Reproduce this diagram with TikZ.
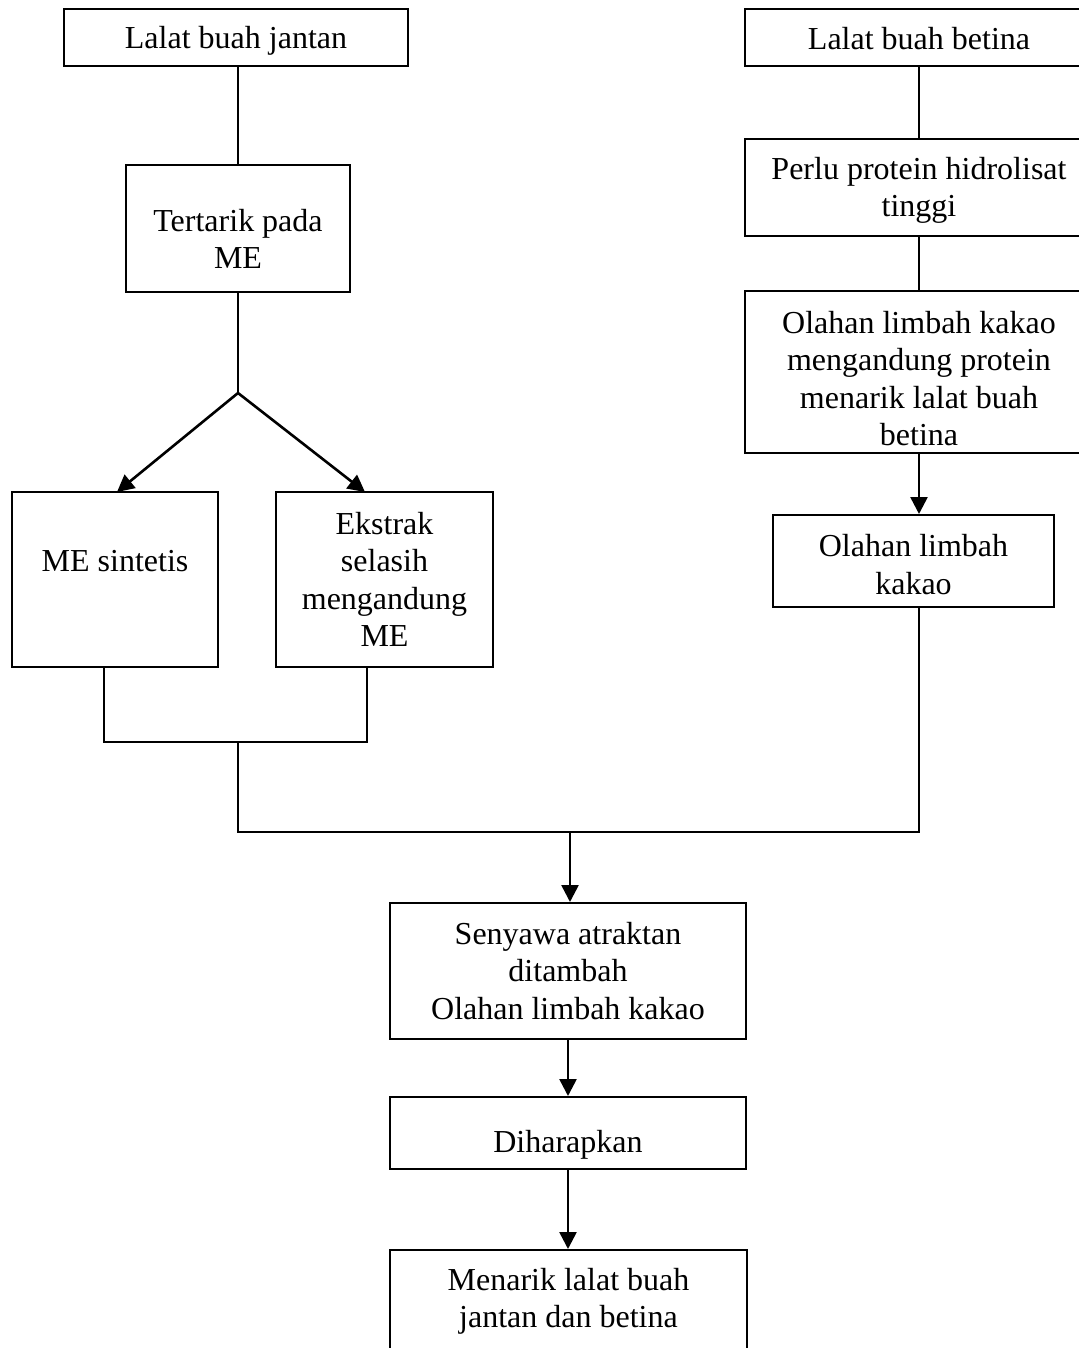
\documentclass[tikz,border=0pt]{standalone}
\usepackage{fontspec}
\setmainfont{Liberation Serif}
\usetikzlibrary{arrows.meta}
\newcommand{\lowertxt}[2]{\raisebox{-#1}[\height][\depth]{\begin{tabular}{@{}c@{}}#2\end{tabular}}}
\begin{document}
\begin{tikzpicture}[x=1pt,y=-1pt,
  box/.style={draw=black, line width=2pt, align=center, inner sep=0pt,
    font=\fontsize{32}{37.5}\selectfont},
  conn/.style={line width=2pt},
  arr/.style={line width=2.6pt, -{Triangle[length=17pt,width=17pt]}}]
\useasboundingbox (0,0) rectangle (1078,1348);
% left column
\node[box, minimum width=344, minimum height=57] (A) at (236,37.5) {\lowertxt{4pt}{Lalat buah jantan}};
\node[box, minimum width=224, minimum height=127] (T) at (238,228.5) {\lowertxt{14pt}{Tertarik pada\\ME}};
\node[box, minimum width=206, minimum height=175] (MS) at (115,579.5) {ME sintetis\\\mbox{}};
\node[box, minimum width=217, minimum height=175] (EK) at (384.5,579.5) {Ekstrak\\selasih\\mengandung\\ME};
% right column
\node[box, minimum width=348, minimum height=57] (B) at (919,37.5) {\lowertxt{5pt}{Lalat buah betina}};
\node[box, minimum width=348, minimum height=97] (P) at (919,187.5) {\lowertxt{3pt}{Perlu protein hidrolisat\\tinggi}};
\node[box, minimum width=348, minimum height=162] (O) at (919,372) {\lowertxt{10pt}{Olahan limbah kakao\\mengandung protein\\menarik lalat buah\\betina}};
\node[box, minimum width=281, minimum height=92] (OK) at (913.5,561) {\lowertxt{7pt}{Olahan limbah\\kakao}};
% bottom column
\node[box, minimum width=356, minimum height=136] (S) at (568,971) {Senyawa atraktan\\ditambah\\Olahan limbah kakao};
\node[box, minimum width=356, minimum height=72] (D) at (568,1133) {\lowertxt{12pt}{Diharapkan}};
\node[box, minimum width=357, minimum height=133] (M) at (568.5,1316.5) {Menarik lalat buah\\jantan dan betina\\\mbox{}};
% coordinates
\coordinate (br) at (238,393);
\coordinate (tl) at (117,492);
\coordinate (tr) at (365,492);
\coordinate (j1) at (104,742);
\coordinate (j2) at (367,742);
\coordinate (jm) at (238,742);
\coordinate (jb) at (238,832);
\coordinate (jr) at (919,832);
\coordinate (ja) at (570,832);
% connectors
\draw[conn] (T.north |- A.south) -- (T.north);
\draw[conn] (T.south) -- (br);
\draw[arr] (br) -- (tl);
\draw[arr] (br) -- (tr);
\draw[conn] (B.south) -- (P.north);
\draw[conn] (P.south) -- (O.north);
\draw[arr] (O.south) -- (O.south |- OK.north);
\draw[conn] (j1 |- MS.south) -- (j1) -- (j2) -- (j2 |- EK.south);
\draw[conn] (jm) -- (jb) -- (jr) -- (jr |- OK.south);
\draw[arr] (ja) -- (ja |- S.north);
\draw[arr] (S.south) -- (D.north);
\draw[arr] (D.south) -- (D.south |- M.north);
\end{tikzpicture}
\end{document}
